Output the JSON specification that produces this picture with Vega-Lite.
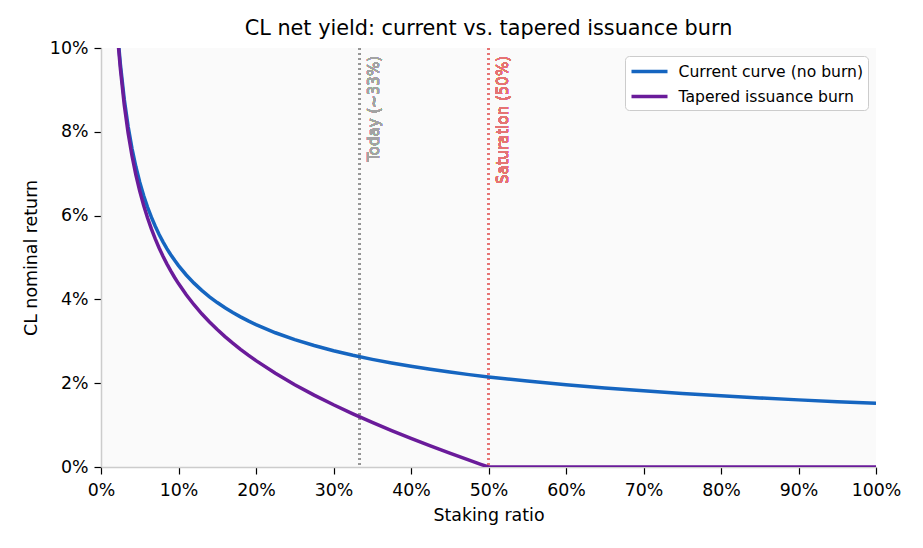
{
  "$schema": "https://vega.github.io/schema/vega-lite/v6.json",
  "width": 775,
  "height": 419,
  "autosize": {"type": "none"},
  "padding": {"left": 101, "top": 48, "right": 47, "bottom": 81},
  "background": "white",
  "title": {
    "text": "CL net yield: current vs. tapered issuance burn",
    "font": "DejaVu Sans",
    "fontSize": 20.8,
    "fontWeight": "normal",
    "color": "#000000",
    "frame": "group",
    "offset": -0.5
  },
  "data": {
    "values": [
      {"series": "Current curve (no burn)", "s": 0.02, "y": 0.10748},
      {"series": "Current curve (no burn)", "s": 0.0225, "y": 0.10133},
      {"series": "Current curve (no burn)", "s": 0.025, "y": 0.09613},
      {"series": "Current curve (no burn)", "s": 0.03, "y": 0.08776},
      {"series": "Current curve (no burn)", "s": 0.035, "y": 0.08125},
      {"series": "Current curve (no burn)", "s": 0.04, "y": 0.076},
      {"series": "Current curve (no burn)", "s": 0.045, "y": 0.07165},
      {"series": "Current curve (no burn)", "s": 0.05, "y": 0.06798},
      {"series": "Current curve (no burn)", "s": 0.055, "y": 0.06481},
      {"series": "Current curve (no burn)", "s": 0.06, "y": 0.06205},
      {"series": "Current curve (no burn)", "s": 0.065, "y": 0.05962},
      {"series": "Current curve (no burn)", "s": 0.07, "y": 0.05745},
      {"series": "Current curve (no burn)", "s": 0.075, "y": 0.0555},
      {"series": "Current curve (no burn)", "s": 0.08, "y": 0.05374},
      {"series": "Current curve (no burn)", "s": 0.085, "y": 0.05213},
      {"series": "Current curve (no burn)", "s": 0.09, "y": 0.05067},
      {"series": "Current curve (no burn)", "s": 0.095, "y": 0.04932},
      {"series": "Current curve (no burn)", "s": 0.1, "y": 0.04807},
      {"series": "Current curve (no burn)", "s": 0.11, "y": 0.04583},
      {"series": "Current curve (no burn)", "s": 0.12, "y": 0.04388},
      {"series": "Current curve (no burn)", "s": 0.13, "y": 0.04216},
      {"series": "Current curve (no burn)", "s": 0.14, "y": 0.04062},
      {"series": "Current curve (no burn)", "s": 0.15, "y": 0.03925},
      {"series": "Current curve (no burn)", "s": 0.16, "y": 0.038},
      {"series": "Current curve (no burn)", "s": 0.17, "y": 0.03687},
      {"series": "Current curve (no burn)", "s": 0.18, "y": 0.03583},
      {"series": "Current curve (no burn)", "s": 0.19, "y": 0.03487},
      {"series": "Current curve (no burn)", "s": 0.2, "y": 0.03399},
      {"series": "Current curve (no burn)", "s": 0.225, "y": 0.03204},
      {"series": "Current curve (no burn)", "s": 0.25, "y": 0.0304},
      {"series": "Current curve (no burn)", "s": 0.275, "y": 0.02899},
      {"series": "Current curve (no burn)", "s": 0.3, "y": 0.02775},
      {"series": "Current curve (no burn)", "s": 0.325, "y": 0.02666},
      {"series": "Current curve (no burn)", "s": 0.35, "y": 0.02569},
      {"series": "Current curve (no burn)", "s": 0.375, "y": 0.02482},
      {"series": "Current curve (no burn)", "s": 0.4, "y": 0.02403},
      {"series": "Current curve (no burn)", "s": 0.425, "y": 0.02332},
      {"series": "Current curve (no burn)", "s": 0.45, "y": 0.02266},
      {"series": "Current curve (no burn)", "s": 0.475, "y": 0.02205},
      {"series": "Current curve (no burn)", "s": 0.5, "y": 0.0215},
      {"series": "Current curve (no burn)", "s": 0.55, "y": 0.0205},
      {"series": "Current curve (no burn)", "s": 0.6, "y": 0.01962},
      {"series": "Current curve (no burn)", "s": 0.65, "y": 0.01885},
      {"series": "Current curve (no burn)", "s": 0.7, "y": 0.01817},
      {"series": "Current curve (no burn)", "s": 0.75, "y": 0.01755},
      {"series": "Current curve (no burn)", "s": 0.8, "y": 0.01699},
      {"series": "Current curve (no burn)", "s": 0.85, "y": 0.01649},
      {"series": "Current curve (no burn)", "s": 0.9, "y": 0.01602},
      {"series": "Current curve (no burn)", "s": 0.95, "y": 0.01559},
      {"series": "Current curve (no burn)", "s": 1.0, "y": 0.0152},
      {"series": "Tapered issuance burn", "s": 0.02, "y": 0.10662},
      {"series": "Tapered issuance burn", "s": 0.0225, "y": 0.10036},
      {"series": "Tapered issuance burn", "s": 0.025, "y": 0.09506},
      {"series": "Tapered issuance burn", "s": 0.03, "y": 0.08647},
      {"series": "Tapered issuance burn", "s": 0.035, "y": 0.07974},
      {"series": "Tapered issuance burn", "s": 0.04, "y": 0.07428},
      {"series": "Tapered issuance burn", "s": 0.045, "y": 0.06972},
      {"series": "Tapered issuance burn", "s": 0.05, "y": 0.06583},
      {"series": "Tapered issuance burn", "s": 0.055, "y": 0.06245},
      {"series": "Tapered issuance burn", "s": 0.06, "y": 0.05947},
      {"series": "Tapered issuance burn", "s": 0.065, "y": 0.05682},
      {"series": "Tapered issuance burn", "s": 0.07, "y": 0.05444},
      {"series": "Tapered issuance burn", "s": 0.075, "y": 0.05228},
      {"series": "Tapered issuance burn", "s": 0.08, "y": 0.0503},
      {"series": "Tapered issuance burn", "s": 0.085, "y": 0.04848},
      {"series": "Tapered issuance burn", "s": 0.09, "y": 0.0468},
      {"series": "Tapered issuance burn", "s": 0.095, "y": 0.04523},
      {"series": "Tapered issuance burn", "s": 0.1, "y": 0.04377},
      {"series": "Tapered issuance burn", "s": 0.11, "y": 0.0411},
      {"series": "Tapered issuance burn", "s": 0.12, "y": 0.03872},
      {"series": "Tapered issuance burn", "s": 0.13, "y": 0.03657},
      {"series": "Tapered issuance burn", "s": 0.14, "y": 0.0346},
      {"series": "Tapered issuance burn", "s": 0.15, "y": 0.0328},
      {"series": "Tapered issuance burn", "s": 0.16, "y": 0.03112},
      {"series": "Tapered issuance burn", "s": 0.17, "y": 0.02956},
      {"series": "Tapered issuance burn", "s": 0.18, "y": 0.02809},
      {"series": "Tapered issuance burn", "s": 0.19, "y": 0.0267},
      {"series": "Tapered issuance burn", "s": 0.2, "y": 0.02539},
      {"series": "Tapered issuance burn", "s": 0.225, "y": 0.02237},
      {"series": "Tapered issuance burn", "s": 0.25, "y": 0.01965},
      {"series": "Tapered issuance burn", "s": 0.275, "y": 0.01716},
      {"series": "Tapered issuance burn", "s": 0.3, "y": 0.01485},
      {"series": "Tapered issuance burn", "s": 0.325, "y": 0.01269},
      {"series": "Tapered issuance burn", "s": 0.35, "y": 0.01064},
      {"series": "Tapered issuance burn", "s": 0.375, "y": 0.0087},
      {"series": "Tapered issuance burn", "s": 0.4, "y": 0.00683},
      {"series": "Tapered issuance burn", "s": 0.425, "y": 0.00504},
      {"series": "Tapered issuance burn", "s": 0.45, "y": 0.00331},
      {"series": "Tapered issuance burn", "s": 0.475, "y": 0.00163},
      {"series": "Tapered issuance burn", "s": 0.49, "y": 0.00064},
      {"series": "Tapered issuance burn", "s": 0.5, "y": 0.0},
      {"series": "Tapered issuance burn", "s": 0.75, "y": 0.0},
      {"series": "Tapered issuance burn", "s": 1.0, "y": 0.0}
    ]
  },
  "layer": [
    {
      "mark": {"type": "rule", "strokeDash": [2, 3], "strokeWidth": 1.5, "color": "#999999"},
      "encoding": {"x": {"datum": 0.3333, "type": "quantitative"}}
    },
    {
      "mark": {"type": "rule", "strokeDash": [2, 3], "strokeWidth": 1.5, "color": "#e57373"},
      "encoding": {"x": {"datum": 0.5, "type": "quantitative"}}
    },
    {
      "mark": {"type": "text", "text": "Today (~33%)", "angle": 270, "align": "right", "baseline": "top", "dx": -8, "dy": 7.4, "font": "DejaVu Sans", "fontSize": 15, "color": "#a3a3a3"},
      "encoding": {"x": {"datum": 0.3333, "type": "quantitative"}, "y": {"datum": 0.1, "type": "quantitative"}}
    },
    {
      "mark": {"type": "text", "text": "Saturation (50%)", "angle": 270, "align": "right", "baseline": "top", "dx": -8, "dy": 7, "font": "DejaVu Sans", "fontSize": 15, "color": "#e57373"},
      "encoding": {"x": {"datum": 0.5, "type": "quantitative"}, "y": {"datum": 0.1, "type": "quantitative"}}
    },
    {
      "mark": {"type": "line", "strokeWidth": 3.5, "clip": true},
      "encoding": {
        "x": {
          "field": "s",
          "type": "quantitative",
          "title": "Staking ratio",
          "scale": {"domain": [0, 1], "nice": false},
          "axis": {"values": [0, 0.1, 0.2, 0.3, 0.4, 0.5, 0.6, 0.7, 0.8, 0.9, 1.0], "format": ".0%", "labelFlush": false, "labelOverlap": false}
        },
        "y": {
          "field": "y",
          "type": "quantitative",
          "title": "CL nominal return",
          "scale": {"domain": [0, 0.1], "nice": false},
          "axis": {"values": [0, 0.02, 0.04, 0.06, 0.08, 0.1], "format": ".0%", "labelFlush": false, "labelOverlap": false}
        },
        "color": {
          "field": "series",
          "type": "nominal",
          "title": null,
          "scale": {"domain": ["Current curve (no burn)", "Tapered issuance burn"], "range": ["#1565c0", "#6a1b9a"]},
          "legend": {
            "orient": "top-right",
            "offset": 8,
            "symbolType": "M-1,0H3",
            "symbolSize": 324,
            "symbolStrokeWidth": 3.5,
            "labelOffset": 27,
            "rowPadding": 5,
            "labelLimit": 400,
            "labelFont": "DejaVu Sans",
            "labelFontSize": 15.6,
            "labelColor": "#000000",
            "fillColor": "#ffffff",
            "strokeColor": "#cccccc",
            "cornerRadius": 4,
            "padding": 4.5
          }
        }
      }
    }
  ],
  "config": {
    "view": {"fill": "#fafafa", "stroke": null},
    "axis": {
      "labelFont": "DejaVu Sans",
      "labelFontSize": 17.4,
      "labelColor": "#000000",
      "titleFont": "DejaVu Sans",
      "titleFontSize": 17.4,
      "titleFontWeight": "normal",
      "titleColor": "#000000",
      "domainColor": "#cccccc",
      "domainWidth": 1.5,
      "tickColor": "#000000",
      "tickSize": 7,
      "tickWidth": 1.2,
      "gridColor": "#ebebeb",
      "gridWidth": 1
    },
    "axisX": {"labelPadding": 7, "titlePadding": 8},
    "axisY": {"labelPadding": 6, "titlePadding": 9}
  }
}
